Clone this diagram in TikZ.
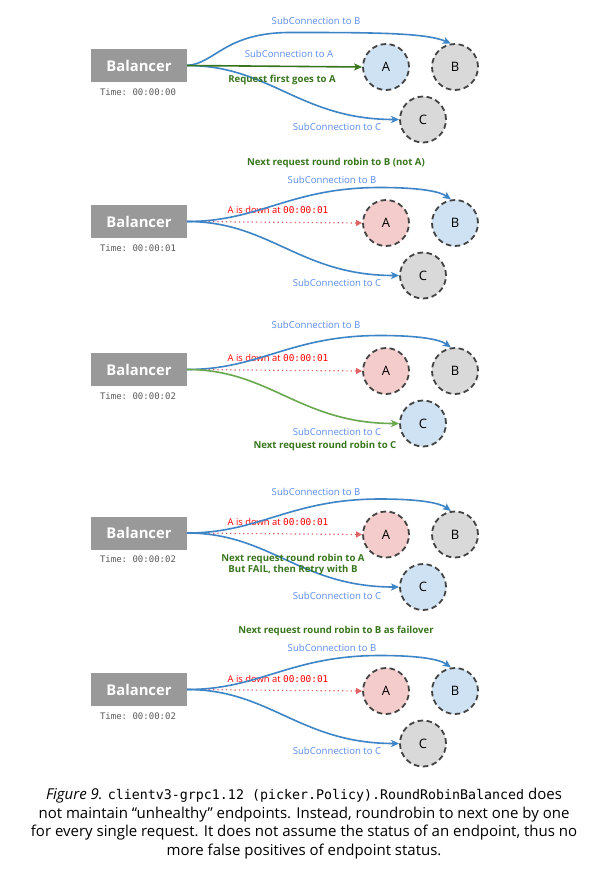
\documentclass[tikz,border=0pt]{standalone}
\usepackage{fontspec}
\setmainfont{Open Sans}
\setmonofont{DejaVu Sans Mono}
\usetikzlibrary{arrows.meta}
\definecolor{balgray}{HTML}{999999}
\definecolor{epline}{HTML}{434343}
\definecolor{fillblue}{HTML}{CFE2F3}
\definecolor{fillgray}{HTML}{D9D9D9}
\definecolor{fillpink}{HTML}{F4CCCC}
\definecolor{linkblue}{HTML}{3D85C6}
\definecolor{sublabel}{HTML}{5B8DEF}
\definecolor{notegreen}{HTML}{38761D}
\definecolor{lightgreen}{HTML}{6AA84F}
\definecolor{downred}{HTML}{E06666}
\definecolor{textred}{HTML}{FF0000}
\definecolor{timegray}{HTML}{595959}
\newcommand{\downtext}{A is down at {\ttfamily 00:00:01}}
\begin{document}
\begin{tikzpicture}[x=1pt,y=-1pt,
  bal/.style={fill=balgray, text=white, font=\fontsize{14.8}{16}\selectfont\bfseries, minimum width=96pt, minimum height=33pt, inner sep=0pt},
  ep/.style={circle, draw=epline, dash pattern=on 5.5pt off 3.5pt, line width=1.8pt, minimum size=46pt, inner sep=0pt, font=\fontsize{13}{15}\selectfont},
  subl/.style={text=sublabel, font=\fontsize{9.6}{11}\selectfont, inner sep=0pt},
  note/.style={text=notegreen, font=\fontsize{9.6}{11}\selectfont\bfseries, inner sep=0pt, align=center},
  downl/.style={text=textred, font=\fontsize{9.4}{11}\selectfont, inner sep=0pt},
  timel/.style={text=timegray, font=\fontsize{9}{11}\selectfont\ttfamily, inner sep=0pt},
  tipA/.style={-{Stealth[length=8pt,width=7pt,inset=2pt]}},
  conn/.style={draw=linkblue, line width=1.6pt, tipA},
  greenconn/.style={draw=notegreen, line width=1.6pt, tipA},
  lgreenconn/.style={draw=lightgreen, line width=1.6pt, tipA},
  downarr/.style={draw=downred, line width=1.2pt, dash pattern=on 1.3pt off 3pt, -{Triangle[length=6pt,width=6pt]}},
  caption/.style={font=\fontsize{15}{18.5}\selectfont, align=center, inner sep=0pt}
]
\useasboundingbox[fill=white] (0,0) rectangle (608,879);

% ---------- Panel 1 ----------
\begin{scope}[shift={(0,65.5)}]
\node[bal] (bal1) at (139,0) {Balancer};
\node[timel] (t1) at (138,26.5) {Time: 00:00:00};
\node[ep, fill=fillblue] (a1) at (386,1.5) {A};
\node[ep, fill=fillgray] (b1) at (455,1.5) {B};
\node[ep, fill=fillgray] (c1) at (423,54) {C};
\draw[conn] (bal1.east) .. controls (215,-2) and (225,-33) .. (290,-33) .. controls (370,-33) and (425,-33) .. (b1.100);
\draw[conn] (bal1.east) .. controls (270,0) and (300,54) .. (c1.west);
\draw[greenconn] (bal1.east) -- (a1.west);
\node[subl] (lb1) at (316,-44.5) {SubConnection to B};
\node[subl] (la1) at (289,-11.5) {SubConnection to A};
\node[note] (n1) at (282,14.5) {Request first goes to A};
\node[subl] (lc1) at (337,61.5) {SubConnection to C};
\end{scope}
\node[note] (h2) at (336,163) {Next request round robin to B (not A)};

% ---------- Panel 2 ----------
\begin{scope}[shift={(0,221.5)}]
\node[bal] (bal2) at (139,0) {Balancer};
\node[timel] (t2) at (138,26.5) {Time: 00:00:01};
\node[ep, fill=fillpink] (a2) at (386,1.5) {A};
\node[ep, fill=fillblue] (b2) at (455,1.5) {B};
\node[ep, fill=fillgray] (c2) at (423,54) {C};
\node[downl] (d2) at (278,-11.5) {\downtext};
\draw[downarr] (bal2.east) -- (a2.west);
\draw[conn] (bal2.east) .. controls (260,0) and (290,-34) .. (380,-34) .. controls (420,-34) and (440,-30) .. (b2.100);
\draw[conn] (bal2.east) .. controls (270,0) and (300,54) .. (c2.west);
\node[subl] (lb2) at (332,-41.5) {SubConnection to B};
\node[subl] (lc2) at (337,61.5) {SubConnection to C};
\end{scope}

% ---------- Panel 3 ----------
\begin{scope}[shift={(0,369.5)}]
\node[bal] (bal3) at (139,0) {Balancer};
\node[timel] (t3) at (138,26.5) {Time: 00:00:02};
\node[ep, fill=fillpink] (a3) at (386,1.5) {A};
\node[ep, fill=fillgray] (b3) at (455,1.5) {B};
\node[ep, fill=fillblue] (c3) at (423,54) {C};
\node[downl] (d3) at (278,-11.5) {\downtext};
\draw[downarr] (bal3.east) -- (a3.west);
\draw[conn] (bal3.east) .. controls (260,0) and (290,-34) .. (380,-34) .. controls (420,-34) and (440,-30) .. (b3.100);
\draw[lgreenconn] (bal3.east) .. controls (270,0) and (300,54) .. (c3.west);
\node[subl] (lb3) at (316,-44.5) {SubConnection to B};
\node[subl] (lc3) at (337,62.5) {SubConnection to C};
\node[note] (n3) at (325,76.5) {Next request round robin to C};
\end{scope}

% ---------- Panel 4 ----------
\begin{scope}[shift={(0,533)}]
\node[bal] (bal4) at (139,0) {Balancer};
\node[timel] (t4) at (138,26.5) {Time: 00:00:02};
\node[ep, fill=fillpink] (a4) at (386,1.5) {A};
\node[ep, fill=fillgray] (b4) at (455,1.5) {B};
\node[ep, fill=fillblue] (c4) at (423,54) {C};
\node[downl] (d4) at (278,-11.5) {\downtext};
\draw[downarr] (bal4.east) -- (a4.west);
\draw[conn] (bal4.east) .. controls (260,0) and (290,-34) .. (380,-34) .. controls (420,-34) and (440,-30) .. (b4.100);
\draw[conn] (bal4.east) .. controls (270,0) and (300,54) .. (c4.west);
\node[subl] (lb4) at (316,-41) {SubConnection to B};
\node[subl] (lc4) at (337,63) {SubConnection to C};
\node[note] (n4) at (293,31.5) {Next request round robin to A\\But FAIL, then Retry with B};
\end{scope}

% ---------- Panel 5 ----------
\node[note] (h5) at (336,631) {Next request round robin to B as failover};
\begin{scope}[shift={(0,689.5)}]
\node[bal] (bal5) at (139,0) {Balancer};
\node[timel] (t5) at (138,26.5) {Time: 00:00:02};
\node[ep, fill=fillpink] (a5) at (386,1.5) {A};
\node[ep, fill=fillblue] (b5) at (455,1.5) {B};
\node[ep, fill=fillgray] (c5) at (423,54) {C};
\node[downl] (d5) at (278,-10.5) {\downtext};
\draw[downarr] (bal5.east) -- (a5.west);
\draw[conn] (bal5.east) .. controls (260,0) and (290,-34) .. (380,-34) .. controls (420,-34) and (440,-30) .. (b5.100);
\draw[conn] (bal5.east) .. controls (270,0) and (300,54) .. (c5.west);
\node[subl] (lb5) at (332,-41.5) {SubConnection to B};
\node[subl] (lc5) at (337,61.5) {SubConnection to C};
\end{scope}

% ---------- Caption ----------
\node[caption] (cap) at (304,823.5) {\textit{Figure 9.} {\fontsize{13.3}{18.5}\selectfont\ttfamily clientv3-grpc1.12 (picker.Policy).RoundRobinBalanced} does\\
not maintain “unhealthy” endpoints. Instead, roundrobin to next one by one\\
for every single request. It does not assume the status of an endpoint, thus no\\
more false positives of endpoint status.};
\end{tikzpicture}
\end{document}
